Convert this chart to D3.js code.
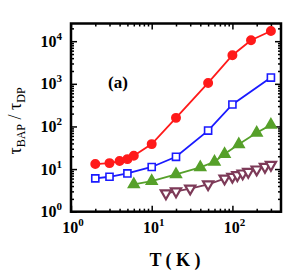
<!DOCTYPE html>
<html>
<head>
<meta charset="utf-8">
<script src="https://cdn.jsdelivr.net/npm/d3@7"></script>
<style>
body { margin: 0; background: #fff; }
svg { font-family: "Liberation Serif", "DejaVu Serif", serif; }
</style>
</head>
<body>
<div class="visContainer"></div>
<script>
const w = 291;
const h = 273;

// data
const redT = [2, 3, 4, 5, 6, 10, 20, 50, 100, 170, 300];
const redV = [13.1, 13.8, 15.4, 17.1, 20.5, 38.5, 159, 1050, 4690, 10500, 17300];
const blueT = [2, 3, 5, 10, 20, 50, 100, 300];
const blueV = [6.05, 6.6, 7.9, 11.2, 19.4, 80, 327, 1400];
const greenT = [6, 10, 20, 40, 60, 80, 120, 200, 300];
const greenV = [4.4, 5.2, 7.5, 11, 14.8, 22.5, 38, 71, 109];
const brownT = [15, 20, 30, 50, 80, 100, 115, 134, 157, 200, 253, 300];
const brownV = [2.7, 3.0, 3.5, 4.4, 6.0, 6.6, 7.2, 7.9, 8.6, 9.8, 11.3, 12.6];

const xTickExp = [0, 1, 2];
const yTickExp = [0, 1, 2, 3, 4];

const mLeft = 71, mRight = 281, mTop = 23.5, mBottom = 211.7;

const svg = d3.select('.visContainer').append('svg')
	.attr('width', w)
	.attr('height', h);

const xScale = d3.scaleLog().domain([1, 400]).range([mLeft, mRight]);
const yScale = d3.scaleLog().domain([1, 2.6e4]).range([mBottom, mTop]);

// minor ticks lists
function minors(maxExp, maxVal) {
	const out = [];
	for (let e = 0; e <= maxExp; e++) {
		for (let m = 2; m <= 9; m++) {
			const v = m * Math.pow(10, e);
			if (v < maxVal) out.push(v);
		}
	}
	return out;
}
const xMinor = minors(2, 400);
const yMinor = minors(4, 2.6e4);
const xMajor = xTickExp.map((e) => Math.pow(10, e));
const yMajor = yTickExp.map((e) => Math.pow(10, e));

function drawAxis(axisFn, scale, vals, size, tr) {
	const g = svg.append('g')
		.attr('transform', tr)
		.call(axisFn(scale).tickValues(vals).tickSize(size).tickFormat(''));
	g.select('.domain').remove();
	g.selectAll('line').attr('stroke', '#000').attr('stroke-width', 1.5);
	return g;
}

// bottom / top
drawAxis(d3.axisBottom, xScale, xMajor, -6, `translate(0,${mBottom})`);
drawAxis(d3.axisBottom, xScale, xMinor, -3, `translate(0,${mBottom})`);
drawAxis(d3.axisTop, xScale, xMajor, -6, `translate(0,${mTop})`);
drawAxis(d3.axisTop, xScale, xMinor, -3, `translate(0,${mTop})`);
// left / right
drawAxis(d3.axisLeft, yScale, yMajor, -6, `translate(${mLeft},0)`);
drawAxis(d3.axisLeft, yScale, yMinor, -3, `translate(${mLeft},0)`);
drawAxis(d3.axisRight, yScale, yMajor, -6, `translate(${mRight},0)`);
drawAxis(d3.axisRight, yScale, yMinor, -3, `translate(${mRight},0)`);

// frame
svg.append('rect')
	.attr('x', mLeft).attr('y', mTop)
	.attr('width', mRight - mLeft).attr('height', mBottom - mTop)
	.attr('fill', 'none').attr('stroke', '#000').attr('stroke-width', 2.5);

// tick labels
function powLabel(sel, e) {
	sel.append('tspan').text('10');
	sel.append('tspan').attr('dy', -7).attr('font-size', 11).text(e);
}
xTickExp.forEach((e) => {
	const t = svg.append('text')
		.attr('x', xScale(Math.pow(10, e)) + 2)
		.attr('y', 233)
		.attr('text-anchor', 'middle')
		.attr('font-size', 16)
		.attr('font-weight', 'bold');
	powLabel(t, e);
});
yTickExp.forEach((e) => {
	const t = svg.append('text')
		.attr('x', 62)
		.attr('y', yScale(Math.pow(10, e)) + 5.5)
		.attr('text-anchor', 'end')
		.attr('font-size', 16)
		.attr('font-weight', 'bold');
	powLabel(t, e);
});

// axis titles
const yt = svg.append('text')
	.attr('transform', 'translate(21,121) rotate(-90)')
	.attr('text-anchor', 'middle')
	.attr('font-size', 18);
yt.append('tspan').text('τ');
yt.append('tspan').attr('dy', 4).attr('font-size', 12).text('BAP');
yt.append('tspan').attr('dy', -4).text(' / τ');
yt.append('tspan').attr('dy', 4).attr('font-size', 12).text('DP');

svg.append('text')
	.attr('x', 175).attr('y', 266)
	.attr('text-anchor', 'middle')
	.attr('font-size', 18)
	.attr('font-weight', 'bold')
	.style('white-space', 'pre')
	.text('T ( K )');

svg.append('text')
	.attr('x', 118).attr('y', 88)
	.attr('text-anchor', 'middle')
	.attr('font-size', 17)
	.attr('font-weight', 'bold')
	.text('(a)');

// series
const line = d3.line().x((d) => xScale(d[0])).y((d) => yScale(d[1]));
function zip(a, b) { return a.map((v, i) => [v, b[i]]); }

const series = [
	{ d: zip(redT, redV), color: '#ff1a1a', sym: d3.symbolCircle, size: 55, fill: true, rot: 0, sw: 1.6 },
	{ d: zip(blueT, blueV), color: '#1a1aff', sym: d3.symbolSquare, size: 50, fill: false, rot: 0, sw: 1.6 },
	{ d: zip(greenT, greenV), color: '#56a02a', sym: d3.symbolTriangle, size: 50, fill: true, rot: 0, sw: 1.6 },
	{ d: zip(brownT, brownV), color: '#7d3a58', sym: d3.symbolTriangle, size: 45, fill: false, rot: 180, sw: 2.2 }
];

series.forEach((s) => {
	svg.append('path')
		.datum(s.d)
		.attr('d', line)
		.attr('fill', 'none')
		.attr('stroke', s.color)
		.attr('stroke-width', 1.8);
	svg.append('g').selectAll('path')
		.data(s.d)
		.enter()
		.append('path')
		.attr('d', d3.symbol().type(s.sym).size(s.size))
		.attr('transform', (d) => `translate(${xScale(d[0])},${yScale(d[1])}) rotate(${s.rot})`)
		.attr('fill', s.fill ? s.color : '#fff')
		.attr('stroke', s.color)
		.attr('stroke-width', s.sw);
});
</script>
</body>
</html>
